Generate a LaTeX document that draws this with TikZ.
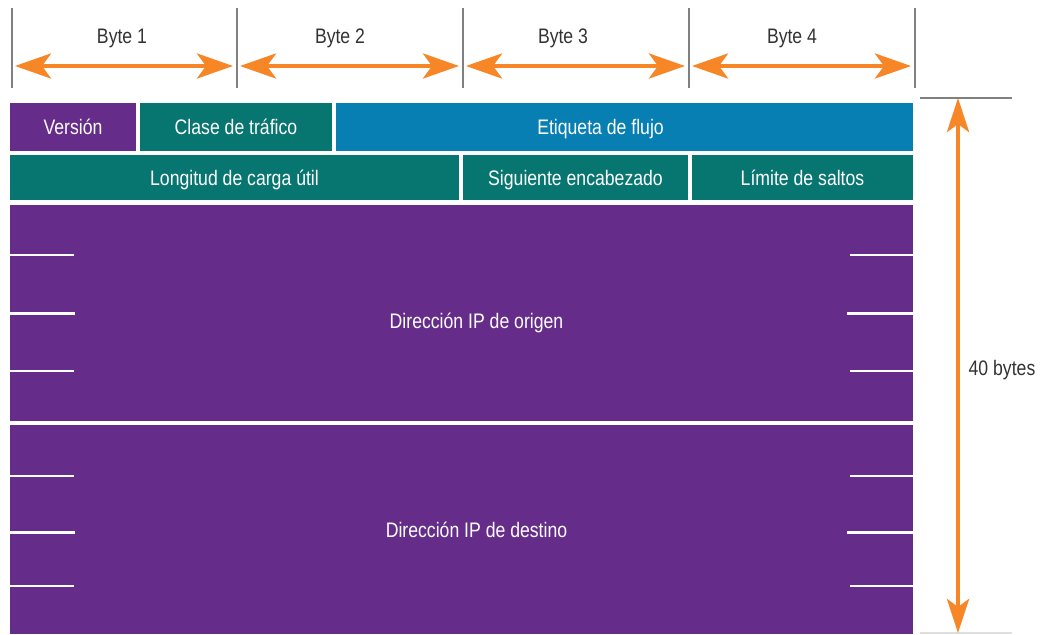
\documentclass[tikz,border=0pt]{standalone}
\usepackage{fontspec}
\setmainfont{Liberation Sans}[FakeStretch=0.84]
\usetikzlibrary{arrows.meta}

\definecolor{fieldpurple}{RGB}{101,45,137}
\definecolor{fieldteal}{RGB}{8,118,112}
\definecolor{fieldblue}{RGB}{8,127,179}
\definecolor{sizeorange}{RGB}{246,134,38}
\definecolor{rulegray}{RGB}{128,128,128}
\definecolor{labelgray}{RGB}{51,51,51}

\begin{document}
\begin{tikzpicture}[x=1pt,y=-1pt,
  fieldtext/.style={text=white, font=\fontsize{21}{24}\selectfont, text height=17pt, text depth=2pt},
  field/.style={anchor=north west, inner sep=0pt, outer sep=0pt, fieldtext},
  bytelabel/.style={text=labelgray, font=\fontsize{21}{24}\selectfont, inner sep=0pt, text height=17pt, text depth=2pt},
  byterule/.style={draw=rulegray, line width=1.5pt},
  bytearrow/.style={draw=sizeorange, line width=4.5pt,
    {Stealth[length=36pt, width=25pt, inset=9pt]}-{Stealth[length=36pt, width=25pt, inset=9pt]},
    shorten <=3pt, shorten >=4pt},
  sizearrow/.style={draw=sizeorange, line width=4.5pt,
    {Stealth[length=34pt, width=22pt, inset=8pt]}-{Stealth[length=34pt, width=22pt, inset=8pt]}},
  thintick/.style={draw=white, line width=1.8pt},
  thicktick/.style={draw=white, line width=3pt}
]
\useasboundingbox (0,0) rectangle (1043,634);

% byte ruler
\foreach \x/\n in {12/0, 237/1, 463/2, 689/3, 915/4} {
  \draw[byterule] (\x,8) -- (\x,88);
  \coordinate (b\n) at (\x,66);
}
\draw[bytearrow] (b0) -- (b1);
\draw[bytearrow] (b1) -- (b2);
\draw[bytearrow] (b2) -- (b3);
\draw[bytearrow] (b3) -- (b4);
\node[bytelabel] (byte1) at (122,36) {Byte 1};
\node[bytelabel] (byte2) at (340,36) {Byte 2};
\node[bytelabel] (byte3) at (563,36) {Byte 3};
\node[bytelabel] (byte4) at (792,36) {Byte 4};

% first header row
\node[field, fill=fieldpurple, minimum width=126pt, minimum height=48pt] (version) at (10,103) {Versión};
\node[field, fill=fieldteal, minimum width=192pt, minimum height=48pt] (clase) at (140,103) {Clase de tráfico};
\node[field, fill=fieldblue, minimum width=577pt, minimum height=48pt,
  label={[fieldtext, xshift=-24pt]center:Etiqueta de flujo}] (etiqueta) at (336,103) {};

% second header row
\node[field, fill=fieldteal, minimum width=449pt, minimum height=45pt] (longitud) at (10,155) {Longitud de carga útil};
\node[field, fill=fieldteal, minimum width=225pt, minimum height=45pt] (siguiente) at (463,155) {Siguiente encabezado};
\node[field, fill=fieldteal, minimum width=221pt, minimum height=45pt] (limite) at (692,155) {Límite de saltos};

% addresses
\node[field, fill=fieldpurple, minimum width=903pt, minimum height=216pt,
  label={[fieldtext, xshift=15pt, yshift=-8pt]center:Dirección IP de origen}] (origen) at (10,205) {};
\node[field, fill=fieldpurple, minimum width=903pt, minimum height=209pt,
  label={[fieldtext, xshift=15pt]center:Dirección IP de destino}] (destino) at (10,425) {};

% word ticks on the address blocks
\foreach \y in {255, 371, 476, 586} {
  \draw[thintick] (10,\y) -- (74,\y);
  \draw[thintick] (850,\y) -- (913,\y);
}
\foreach \y in {313, 532} {
  \draw[thicktick] (10,\y) -- (75,\y);
  \draw[thicktick] (847,\y) -- (913,\y);
}

% total header size
\draw[draw=rulegray, line width=2pt] (920,98) -- (1012,98);
\draw[draw=gray!25, line width=2pt] (920,633) -- (1012,633);
\coordinate (hdrtop) at (958,98);
\coordinate (hdrbottom) at (958,633);
\draw[sizearrow] (hdrtop) -- (hdrbottom);
\node[bytelabel] (total) at (1002,368) {40 bytes};
\end{tikzpicture}
\end{document}
